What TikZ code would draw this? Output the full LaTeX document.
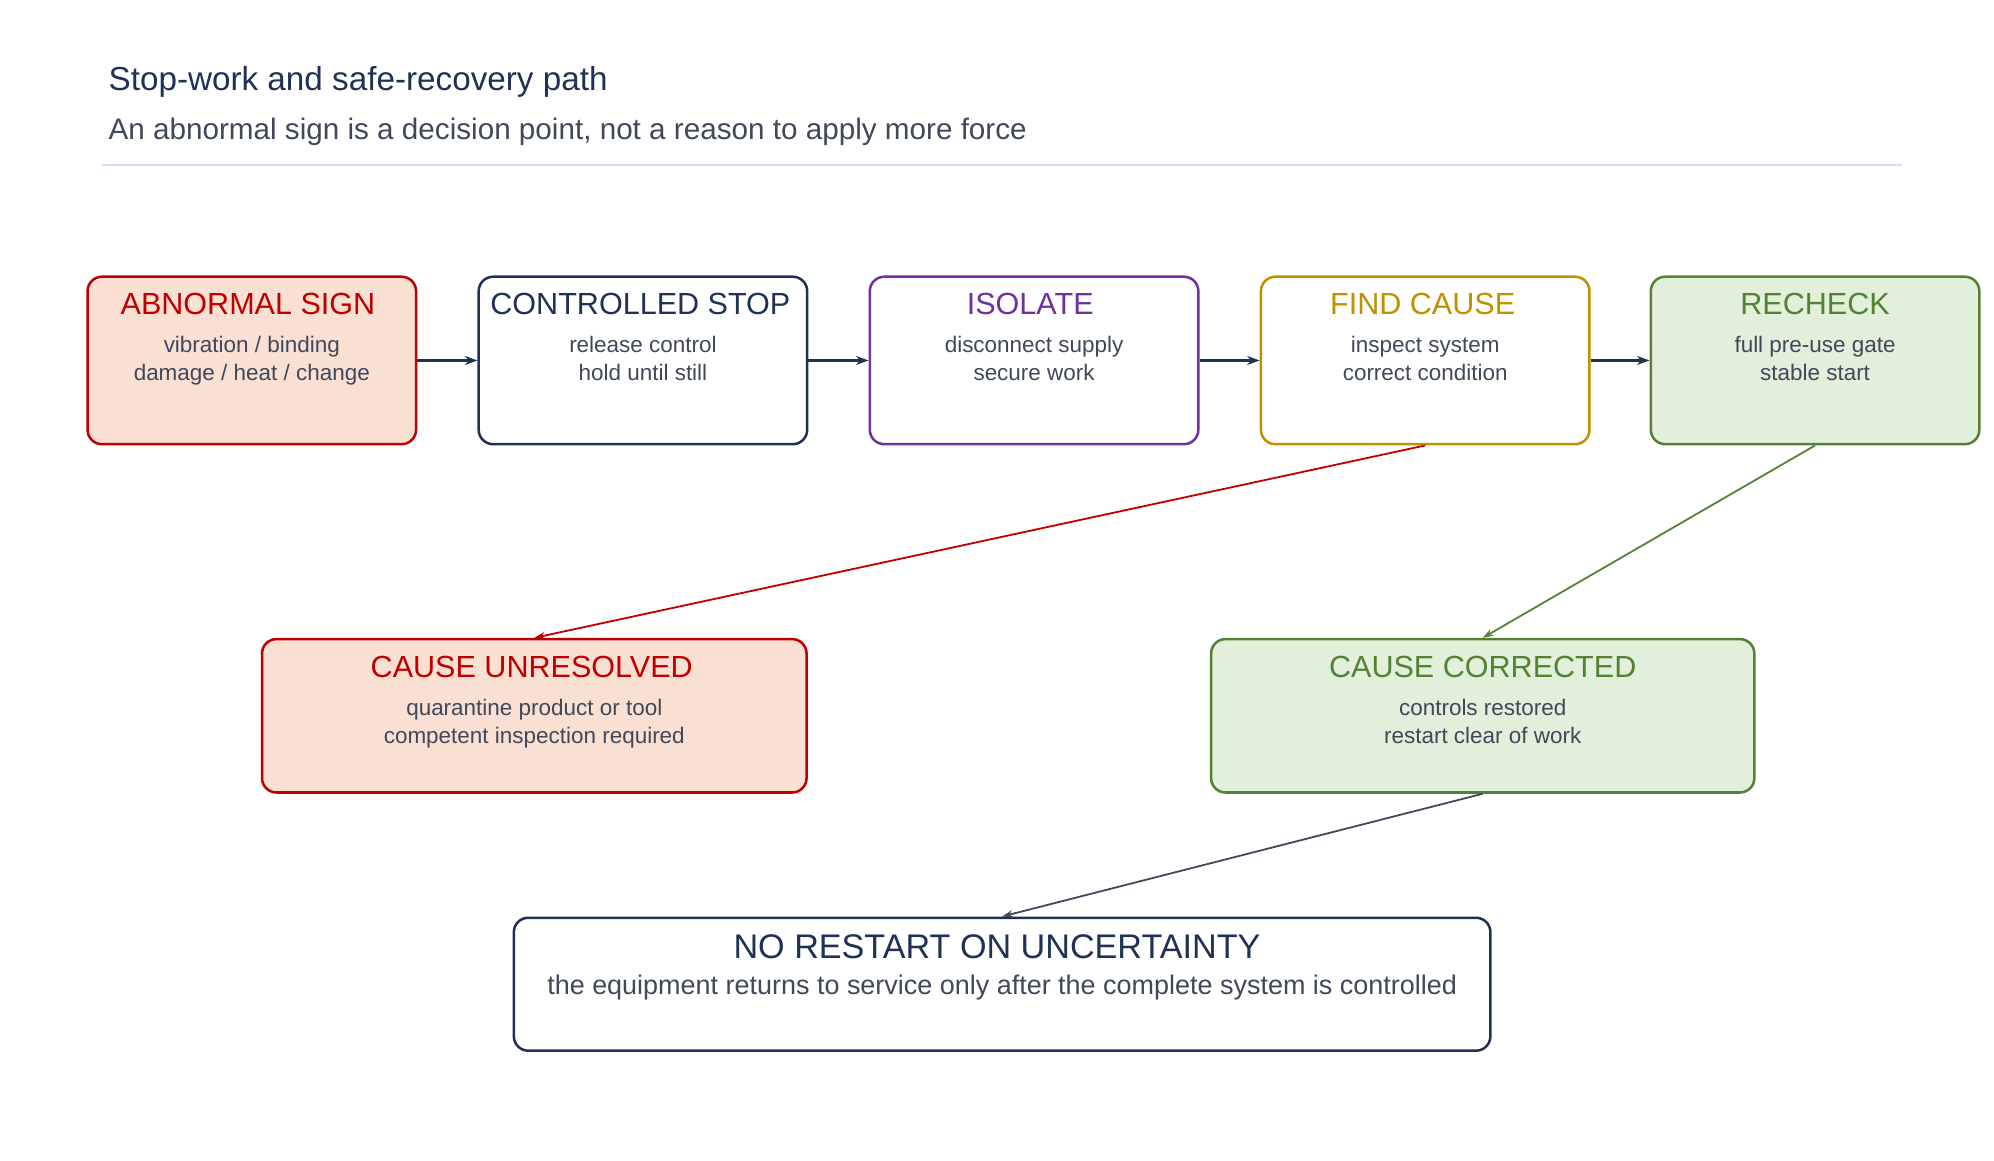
\documentclass[tikz,border=0pt]{standalone}
\usepackage{fontspec}
\setmainfont{Liberation Sans}
\usetikzlibrary{positioning,arrows.meta}
\definecolor{signred}{RGB}{192,0,0}
\definecolor{signfill}{RGB}{250,224,211}
\definecolor{navy}{RGB}{31,50,85}
\definecolor{isopurple}{RGB}{112,48,160}
\definecolor{causegold}{RGB}{191,144,0}
\definecolor{checkgreen}{RGB}{84,130,53}
\definecolor{checkfill}{RGB}{226,239,218}
\definecolor{bodygray}{RGB}{64,72,90}
\begin{document}
\begin{tikzpicture}[x=0.025cm,y=-0.025cm,
    box/.style={rectangle, rounded corners=8pt, line width=1.4pt, fill=white,
                minimum width=257*0.025cm, minimum height=131*0.025cm},
    head/.style={font=\fontsize{17}{20}\selectfont, anchor=north},
    body/.style={font=\fontsize{12.5}{15.5}\selectfont, text=bodygray, align=center, anchor=north},
    arrow/.style={-{Stealth[length=7pt,width=5pt]}, line width=1.3pt, navy},
    link/.style={-{Stealth[length=6pt,width=4pt]}, line width=1pt}
]
\useasboundingbox (0,0) rectangle (1560,908);

\node[anchor=base west, text=navy, font=\fontsize{18.5}{22}\selectfont] (title) at (80,71) {Stop-work and safe-recovery path};
\node[anchor=base west, text=bodygray, font=\fontsize{16.5}{20}\selectfont] (sub) at (80,109) {An abnormal sign is a decision point, not a reason to apply more force};
\draw[line width=1pt, color=blue!15] (80,129) -- (1488,129);

% top row
\node[box, draw=signred, fill=signfill] (sign) at (197,282) {};
\node[box, draw=navy] (stop) at (503,282) {};
\node[box, draw=isopurple] (iso) at (809,282) {};
\node[box, draw=causegold] (find) at (1115,282) {};
\node[box, draw=checkgreen, fill=checkfill] (recheck) at (1420,282) {};

\node[head, text=signred] at (194,224) {ABNORMAL SIGN};
\node[body] at (197,258) {vibration / binding\\damage / heat / change};
\node[head, text=navy] at (501,224) {CONTROLLED STOP};
\node[body] at (503,258) {release control\\hold until still};
\node[head, text=isopurple] at (806,224) {ISOLATE};
\node[body] at (809,258) {disconnect supply\\secure work};
\node[head, text=causegold] at (1113,224) {FIND CAUSE};
\node[body] at (1115,258) {inspect system\\correct condition};
\node[head, text=checkgreen] at (1420,224) {RECHECK};
\node[body] at (1420,258) {full pre-use gate\\stable start};

% outcomes
\node[box, draw=signred, fill=signfill, minimum width=426*0.025cm, minimum height=120*0.025cm] (unres) at (418,560) {};
\node[box, draw=checkgreen, fill=checkfill, minimum width=425*0.025cm, minimum height=120*0.025cm] (corr) at (1160,560) {};
\node[box, draw=navy, minimum width=764*0.025cm, minimum height=104*0.025cm] (norestart) at (784,770) {};

\node[head, text=signred] at (416,508) {CAUSE UNRESOLVED};
\node[body] at (418,542) {quarantine product or tool\\competent inspection required};
\node[head, text=checkgreen] at (1160,508) {CAUSE CORRECTED};
\node[body] at (1160,542) {controls restored\\restart clear of work};
\node[head, text=navy, font=\fontsize{19}{22}\selectfont] at (780,726) {NO RESTART ON UNCERTAINTY};
\node[body, font=\fontsize{15}{18}\selectfont] at (784,758) {the equipment returns to service only after the complete system is controlled};

\draw[arrow] (sign) -- (stop);
\draw[arrow] (stop) -- (iso);
\draw[arrow] (iso) -- (find);
\draw[arrow] (find) -- (recheck);
\draw[link, signred] (find.south) -- (unres.north);
\draw[link, checkgreen] (recheck.south) -- (corr.north);
\draw[link, bodygray] (corr.south) -- (norestart.north);
\end{tikzpicture}
\end{document}
